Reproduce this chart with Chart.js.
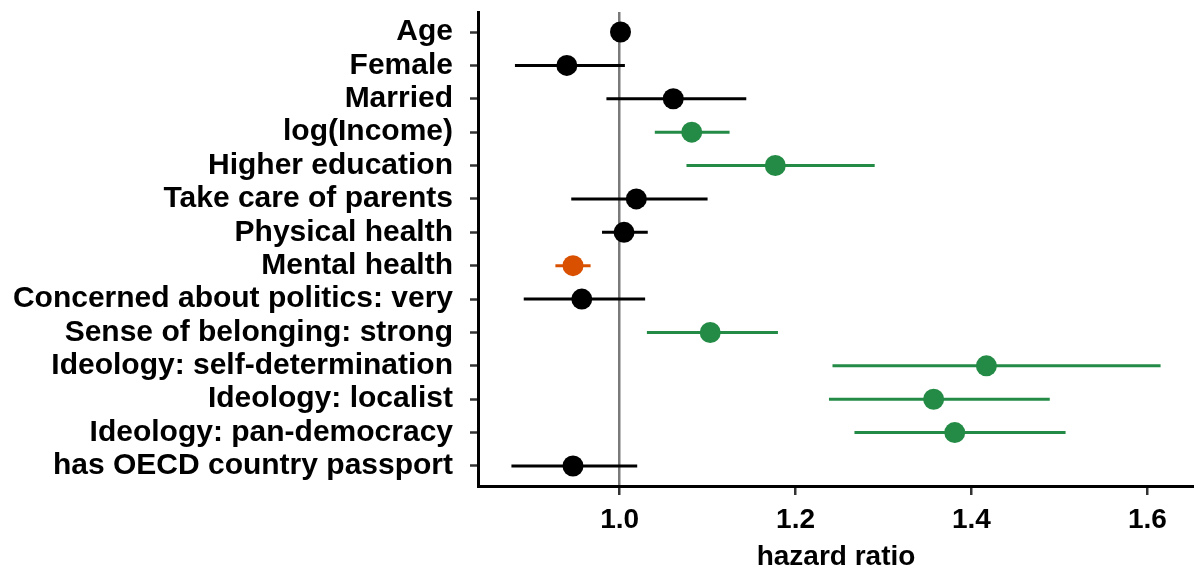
<!DOCTYPE html>
<html>
<head>
<meta charset="utf-8">
<script src="https://cdn.jsdelivr.net/npm/chart.js@4"></script>
<style>
  html, body { margin: 0; padding: 0; background: #fff; }
  #wrap { width: 1194px; height: 574px; position: relative; }
</style>
</head>
<body>
<div id="wrap"><canvas id="forest"></canvas></div>
<script>
var labels = ['Age', 'Female', 'Married', 'log(Income)', 'Higher education',
  'Take care of parents', 'Physical health', 'Mental health',
  'Concerned about politics: very', 'Sense of belonging: strong',
  'Ideology: self-determination', 'Ideology: localist',
  'Ideology: pan-democracy', 'has OECD country passport'];

var estimate = [1.001, 0.940, 1.061, 1.082, 1.177, 1.019, 1.005, 0.947, 0.957, 1.103, 1.417, 1.357, 1.381, 0.947];
var lower    = [0.998, 0.881, 0.985, 1.040, 1.076, 0.945, 0.980, 0.927, 0.891, 1.031, 1.242, 1.238, 1.267, 0.877];
var upper    = [1.004, 1.006, 1.144, 1.125, 1.290, 1.100, 1.032, 0.967, 1.029, 1.180, 1.615, 1.489, 1.507, 1.020];
// 0 = not significant, 1 = positive, -1 = negative
var effect   = [0, 0, 0, 1, 1, 0, 0, -1, 0, 1, 1, 1, 1, 0];

var xTicks = [1.0, 1.2, 1.4, 1.6];

function colorOf(e) {
  if (e > 0) return '#238b45';
  if (e < 0) return '#d95000';
  return '#000000';
}

var family = "'Liberation Sans', Arial, sans-serif";
var yFont = { family: family, size: 30, weight: 'bold' };
var xFont = { family: family, size: 28, weight: 'bold' };

var datasets = [];
labels.forEach(function(name, i) {
  datasets.push({
    type: 'line',
    data: [{x: lower[i], y: i + 1}, {x: upper[i], y: i + 1}],
    borderColor: colorOf(effect[i]),
    borderWidth: 3,
    pointRadius: 0,
    order: 2
  });
});
datasets.push({
  type: 'scatter',
  data: estimate.map(function(v, i) { return {x: v, y: i + 1}; }),
  backgroundColor: effect.map(colorOf),
  borderWidth: 0,
  pointRadius: 10.5,
  order: 1
});

new Chart(document.getElementById('forest'), {
  type: 'scatter',
  data: { datasets: datasets },
  options: {
    responsive: true,
    maintainAspectRatio: false,
    animation: false,
    layout: { autoPadding: false, padding: { top: 12, right: 0, left: 0, bottom: 0 } },
    plugins: { legend: { display: false }, tooltip: { enabled: false } },
    scales: {
      x: {
        type: 'linear',
        min: 0.839,
        max: 1.653,
        afterBuildTicks: function(scale) {
          scale.ticks = xTicks.map(function(v) { return {value: v}; });
        },
        afterFit: function(scale) {
          scale.height = 88;
          scale.paddingLeft = 0;
          scale.paddingRight = 0;
        },
        ticks: {
          color: '#000',
          font: xFont,
          padding: 8,
          callback: function(v) { return v.toFixed(1); }
        },
        grid: {
          color: function(ctx) { return ctx.tick && Math.abs(ctx.tick.value - 1) < 1e-9 ? '#7a7a7a' : 'rgba(0,0,0,0)'; },
          lineWidth: 2.5,
          tickColor: '#333',
          tickLength: 9,
          tickWidth: 2.5
        },
        border: { color: '#000', width: 3 },
        title: { display: true, text: 'hazard ratio', color: '#000', font: xFont, padding: { top: 0, bottom: 0 } }
      },
      y: {
        type: 'linear',
        reverse: true,
        min: 0.4,
        max: 14.6,
        afterBuildTicks: function(scale) {
          scale.ticks = labels.map(function(l, i) { return {value: i + 1}; });
        },
        afterFit: function(scale) {
          scale.width = 478;
          scale.paddingTop = 0;
          scale.paddingBottom = 0;
        },
        ticks: {
          color: '#000',
          font: yFont,
          padding: 17,
          autoSkip: false,
          callback: function(v) { return labels[v - 1]; }
        },
        grid: {
          drawOnChartArea: false,
          tickColor: '#333',
          tickLength: 8,
          tickWidth: 2.5
        },
        border: { color: '#000', width: 3 }
      }
    }
  }
});
</script>
</body>
</html>
